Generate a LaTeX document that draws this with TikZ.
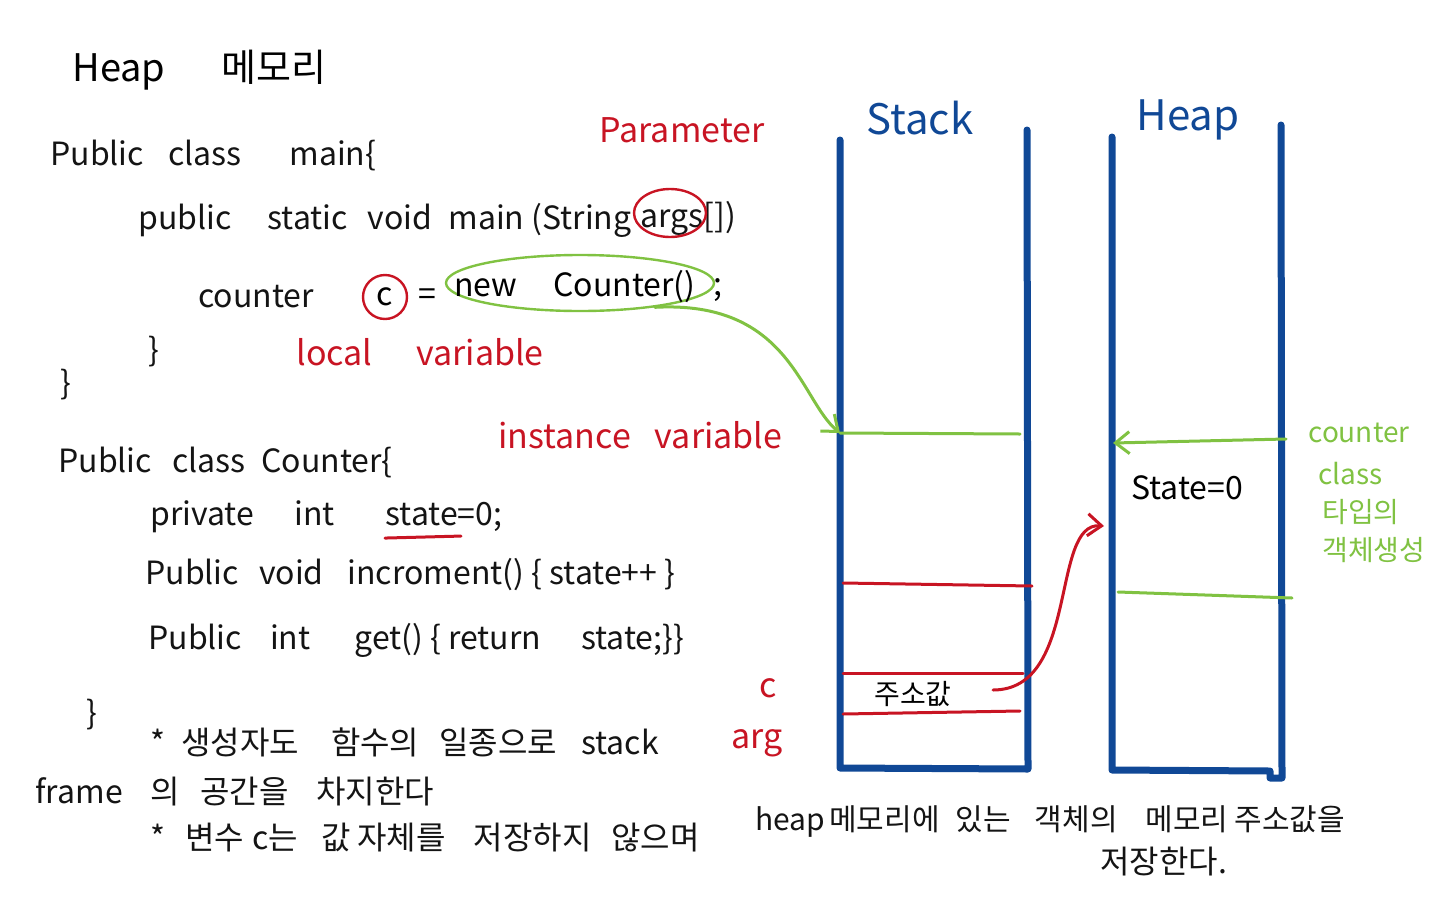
\documentclass[tikz,border=0pt]{standalone}
\usepackage{fontspec}
\setmainfont{Noto Sans CJK KR}
\usetikzlibrary{positioning,arrows.meta,shapes.geometric}
\definecolor{ink}{RGB}{20,20,20}
\definecolor{rd}{RGB}{200,20,35}
\definecolor{gr}{RGB}{128,194,66}
\definecolor{bl}{RGB}{16,72,150}
\def\wall{3.5pt}
\def\pen{1.5pt}
\newcommand{\fs}[1]{\fontsize{#1}{#1}\selectfont}
\newcommand{\code}[4]{\node[anchor=west,text=ink] (#3) at (#1,#2) {#4};}

\begin{document}
\begin{tikzpicture}[x=0.5pt,y=-0.5pt,
  every node/.style={inner sep=0pt,font=\fs{16}},
  note/.style={text=rd,font=\fs{17}},
  mem/.style={text=bl,font=\fs{21}},
  side/.style={text=gr,font=\fs{14},anchor=west},
  wallline/.style={bl,line width=\wall,line cap=round,line join=round},
  slot/.style={line width=\pen,line cap=round},
  ring/.style={draw,ellipse,line width=1.2pt},
  barb/.style={-{Straight Barb[length=7pt,width=11pt]}}]
\useasboundingbox (0,0) rectangle (1440,900);

% code
\node[anchor=west,font=\fs{19}] (title) at (72,70) {Heap\hspace{28pt}메모리};
\code{50}{155}{mainA}{Public\hspace{12pt}class\hspace{24pt}main\{}
\code{138}{220}{mainB}{public\hspace{18pt}static\hspace{10pt}void\hspace{8pt}main (String}
\code{640}{218}{argstxt}{args[])}
\node[ring,draw=rd,minimum width=36pt,minimum height=24pt] (argsring) at (670,213) {};
\code{198}{297}{cnt}{counter}
\node[ring,draw=rd,circle,minimum size=22pt] (cvar) at (385,297) {c};
\node[right=5pt of cvar] (eq) {=};
\node[ring,draw=gr,minimum width=134pt,minimum height=28pt] (newring) at (580,283) {};
\node (newobj) at (575,287) {new\hspace{18pt}Counter()};
\node (semi) at (718,290) {;};
\code{148}{352}{closeA}{\}}
\code{60}{385}{closeB}{\}}
\code{58}{462}{cls}{Public\hspace{10pt}class\hspace{8pt}Counter\{}
\code{150}{517}{fldA}{private\hspace{20pt}int}
\code{385}{517}{fld}{state=0;}
\code{145}{575}{incr}{Public\hspace{10pt}void\hspace{12pt}incroment() \{ state++ \}}
\code{148}{640}{getm}{Public\hspace{14pt}int\hspace{22pt}get() \{ return\hspace{20pt}state;\}\}}
\code{86}{715}{closeC}{\}}
\draw[rd,slot] ([yshift=-3pt]fld.south west) -- ++(76,-2);

% notes
\node[note] (param) at (682,130) {Parameter};
\node[note,anchor=west] (local) at (296,352) {local\hspace{22pt}variable};
\node[note,anchor=west] (inst) at (498,435) {instance\hspace{12pt}variable};
\node[note] (cnote) at (768,688) {c};
\node[note] (argnote) at (757,743) {arg};

% comments
\code{150}{742}{cmtA}{*\hspace{8pt}생성자도\hspace{16pt}함수의\hspace{10pt}일종으로\hspace{12pt}stack}
\code{35}{792}{cmtB}{frame\hspace{14pt}의\hspace{10pt}공간을\hspace{14pt}차지한다}
\code{150}{838}{cmtC}{*\hspace{10pt}변수\hspace{4pt}c는\hspace{12pt}값\hspace{3pt}자체를\hspace{14pt}저장하지\hspace{10pt}않으며}
\node[anchor=west,text=ink,font=\fs{15}] (cmtD) at (755,822) {heap\hspace{2pt}메모리에\hspace{8pt}있는\hspace{12pt}객체의\hspace{14pt}메모리\hspace{3pt}주소값을};
\code{1100}{862}{cmtE}{저장한다.}

% stack and heap
\node[mem] (stk) at (920,118) {Stack};
\node[mem] (hp) at (1188,120) {Heap};
\draw[wallline] (840,140) -- (840,768) -- (1028,769) -- (1027,130);
\draw[wallline] (1112,137) -- (1112,770) -- (1270,771) -- (1270,778) -- (1282,778) -- (1281,125);

\coordinate (stackin) at (840,433);
\coordinate (heaptop) at (1286,439);
\coordinate (heapin) at (1113,443);
\coordinate (addr) at (993,690);
\coordinate (objin) at (1104,526);

\draw[gr,slot] (stackin) -- (1020,434);
\draw[gr,slot] (1118,592) -- (1292,598);
\draw[rd,slot] (843,583) -- (1032,586);
\draw[rd,slot] (843,673) -- (1023,673);
\draw[rd,slot] (843,714) -- (1020,711);

\node[font=\fs{14}] (addrtxt) at (913,694) {주소값};
\node (st) at (1187,488) {State=0};
\node[side] (sideA) at (1308,433) {counter};
\node[side] (sideB) at (1318,474) {class};
\node[side] (sideC) at (1322,512) {타입의};
\node[side] (sideD) at (1322,550) {객체생성};

% arrows
\draw[gr,slot,barb] (newring.-18) .. controls (790,300) and (800,400) .. (stackin);
\draw[gr,slot,barb] (heaptop) -- (heapin);
\draw[rd,slot,barb] (addr) .. controls (1080,690) and (1050,522) .. (objin);
\end{tikzpicture}
\end{document}
